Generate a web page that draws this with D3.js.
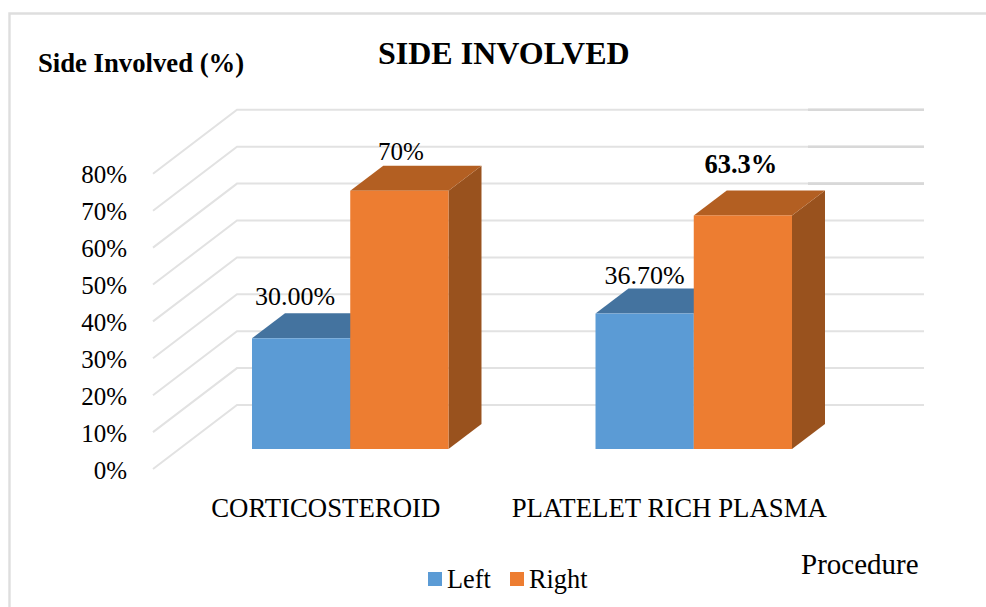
<!DOCTYPE html>
<html>
<head>
<meta charset="utf-8">
<script src="https://cdn.jsdelivr.net/npm/d3@7"></script>
<style>
html, body { margin: 0; padding: 0; background: #fff; }
svg { display: block; }
text { font-family: "Liberation Serif", serif; fill: #000; }
</style>
</head>
<body>
<svg width="986" height="607"></svg>
<script>
var categories = ["CORTICOSTEROID", "PLATELET RICH PLASMA"];
var seriesNames = ["Left", "Right"];
var leftValues = [30, 36.7];
var rightValues = [70, 63.3];
var leftLabels = ["30.00%", "36.70%"];
var rightLabels = ["70%", "63.3%"];
var yTicks = [0, 10, 20, 30, 40, 50, 60, 70, 80];

var svg = d3.select("svg");

var colors = {
    Left: { front: "#5b9bd5", top: "#44739f", side: "#3f6c96" },
    Right: { front: "#ed7d31", top: "#b35f22", side: "#99521e" }
};

// 3d look: bar depth, and how far the wall and the axis ends sit from the bar plane
var depth = { dx: 33, dy: -25 };
var wall = { x: 237, dy: -44, right: 924 };
var front = { x: 153, dy: 20 };

var y = d3.scaleLinear().domain([0, 80]).range([449, 153.8]);

var x0 = d3.scaleBand()
    .domain(categories)
    .range([252, 792])
    .paddingInner(0.428)
    .paddingOuter(0);

var x1 = d3.scaleBand()
    .domain(seriesNames)
    .range([0, x0.bandwidth()]);

// chart frame
svg.append("path")
    .attr("d", "M986,13.5H9.5V607")
    .attr("fill", "none")
    .attr("stroke", "#dedede")
    .attr("stroke-width", 2.4);

// grid on the back wall and the side wall
var grid = svg.append("g").attr("fill", "none");

grid.selectAll("path")
    .data(yTicks)
    .enter().append("path")
    .attr("d", function (d) {
        return "M" + front.x + "," + (y(d) + front.dy) +
            "L" + wall.x + "," + (y(d) + wall.dy) +
            "H" + wall.right;
    })
    .attr("stroke", "#e2e2e2")
    .attr("stroke-width", 2);

// the top three lines get heavier right of the last bar
grid.selectAll("line")
    .data(yTicks.slice(-3))
    .enter().append("line")
    .attr("x1", 808)
    .attr("x2", wall.right)
    .attr("y1", function (d) { return y(d) + wall.dy; })
    .attr("y2", function (d) { return y(d) + wall.dy; })
    .attr("stroke", "#d8d8d8")
    .attr("stroke-width", 2.6);

var rows = [];
seriesNames.forEach(function (name, s) {
    categories.forEach(function (cat, i) {
        rows.push({
            series: name,
            cat: cat,
            value: (s ? rightValues : leftValues)[i],
            label: (s ? rightLabels : leftLabels)[i]
        });
    });
});

function barX(d) { return x0(d.cat) + x1(d.series); }

function poly(points) {
    return "M" + points.map(function (p) { return p.join(","); }).join("L") + "Z";
}

var bars = svg.append("g").selectAll("g")
    .data(rows)
    .enter().append("g");

bars.append("path")
    .attr("fill", function (d) { return colors[d.series].side; })
    .attr("d", function (d) {
        var r = barX(d) + x1.bandwidth();
        return poly([[r, y(d.value)], [r + depth.dx, y(d.value) + depth.dy],
            [r + depth.dx, y(0) + depth.dy], [r, y(0)]]);
    });

bars.append("path")
    .attr("fill", function (d) { return colors[d.series].top; })
    .attr("d", function (d) {
        var l = barX(d), r = l + x1.bandwidth(), t = y(d.value);
        return poly([[l, t], [l + depth.dx, t + depth.dy], [r + depth.dx, t + depth.dy], [r, t]]);
    });

bars.append("rect")
    .attr("x", barX)
    .attr("y", function (d) { return y(d.value); })
    .attr("width", x1.bandwidth())
    .attr("height", function (d) { return y(0) - y(d.value); })
    .attr("fill", function (d) { return colors[d.series].front; });

// value labels, hand placed like in the original
var labelNudge = {
    "30.00%": [-6, -33, 26],
    "36.70%": [0, -30, 26],
    "70%": [1.5, -31, 25],
    "63.3%": [-2, -42, 26.5]
};

bars.append("text")
    .attr("text-anchor", "middle")
    .attr("x", function (d) { return barX(d) + x1.bandwidth() / 2 + labelNudge[d.label][0]; })
    .attr("y", function (d) { return y(d.value) + labelNudge[d.label][1]; })
    .attr("font-size", function (d) { return labelNudge[d.label][2]; })
    .attr("font-weight", function (d) { return d.label === "63.3%" ? "bold" : "normal"; })
    .text(function (d) { return d.label; });

// axes
var yAxis = svg.append("g")
    .attr("transform", "translate(127," + front.dy + ")")
    .call(d3.axisLeft(y).tickValues(yTicks).tickSize(0).tickPadding(0)
        .tickFormat(function (d) { return d + "%"; }));
yAxis.select(".domain").remove();
yAxis.selectAll("text").attr("font-size", 25).attr("font-family", null).attr("dy", "0.36em");

var xAxis = svg.append("g")
    .attr("transform", "translate(-24.5,498)")
    .call(d3.axisBottom(x0).tickSize(0).tickPadding(0));
xAxis.select(".domain").remove();
xAxis.selectAll("text").attr("font-size", 26.8).attr("font-family", null).attr("dy", "0.71em");

// titles
svg.append("text").attr("x", 378).attr("y", 64)
    .attr("font-size", 32).attr("font-weight", "bold").text("SIDE INVOLVED");
svg.append("text").attr("x", 38).attr("y", 72)
    .attr("font-size", 26.7).attr("font-weight", "bold").text("Side Involved (%)");
svg.append("text").attr("x", 801).attr("y", 574)
    .attr("font-size", 29).text("Procedure");

// legend
var legendX = d3.scaleOrdinal().domain(seriesNames).range([428, 510]);

var legend = svg.append("g").selectAll("g")
    .data(seriesNames)
    .enter().append("g")
    .attr("transform", function (d) { return "translate(" + legendX(d) + ",572)"; });

legend.append("rect")
    .attr("width", 14)
    .attr("height", 14)
    .attr("fill", function (d) { return colors[d].front; });

legend.append("text")
    .attr("x", 19)
    .attr("y", 16)
    .attr("font-size", 26.3)
    .text(function (d) { return d; });
</script>
</body>
</html>
